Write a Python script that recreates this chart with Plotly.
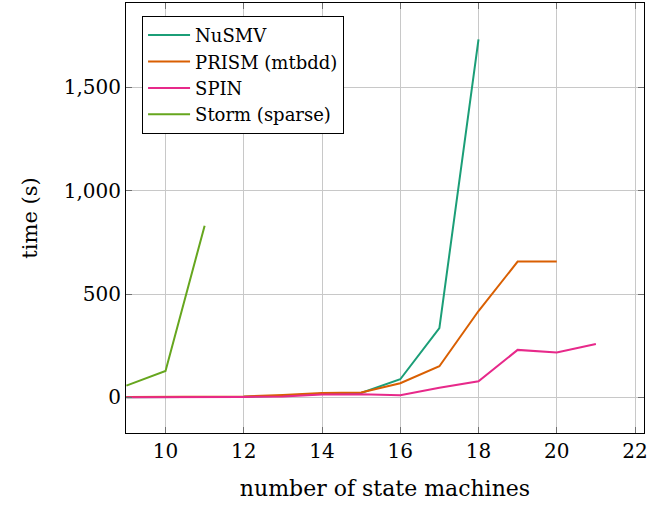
import plotly.graph_objects as go

# Data
nusmv_x = [9, 10, 11, 12, 13, 14, 15, 16, 17, 18]
nusmv_y = [1, 1, 2, 3, 8, 18, 22, 88, 335, 1732]

prism_x = [9, 10, 11, 12, 13, 14, 15, 16, 17, 18, 19, 20]
prism_y = [2, 2, 3, 5, 12, 22, 24, 69, 151, 418, 657, 657]

spin_x = [9, 10, 11, 12, 13, 14, 15, 16, 17, 18, 19, 20, 21]
spin_y = [1, 1, 1, 2, 5, 14, 16, 11, 47, 78, 230, 217, 259]

storm_x = [9, 10, 11]
storm_y = [57, 128, 831]

series = [
    ("NuSMV", nusmv_x, nusmv_y, "#1b9e77"),
    ("PRISM (mtbdd)", prism_x, prism_y, "#d95f02"),
    ("SPIN", spin_x, spin_y, "#e7298a"),
    ("Storm (sparse)", storm_x, storm_y, "#66a61e"),
]

x_ticks = [10, 12, 14, 16, 18, 20, 22]
y_ticks = [0, 500, 1000, 1500]

FONT = "DejaVu Serif"

fig = go.Figure()
for name, xs, ys, col in series:
    fig.add_trace(go.Scatter(x=xs, y=ys, mode="lines", name=name,
                             line=dict(color=col, width=2)))

fig.update_layout(
    width=651, height=506,
    margin=dict(l=126, r=7, t=3, b=73),
    paper_bgcolor="white", plot_bgcolor="white",
    font=dict(family=FONT, color="black", size=20),
    showlegend=True,
    legend=dict(x=0.031, y=0.97, xanchor="left", yanchor="top",
                bordercolor="black", borderwidth=1, bgcolor="white",
                itemwidth=42,
                font=dict(family=FONT, size=18), tracegroupgap=0),
)
fig.update_xaxes(
    range=[8.99, 22.23], tickvals=x_ticks, ticktext=[str(v) for v in x_ticks],
    showgrid=True, gridcolor="#c8c8c8", gridwidth=1,
    showline=True, linecolor="black", linewidth=1, mirror="ticks",
    ticks="inside", ticklen=6, tickcolor="#707070",
    zeroline=False,
    title=dict(text="number of state machines", font=dict(size=22), standoff=18),
    tickfont=dict(size=20),
)
fig.update_yaxes(
    range=[-172, 1908], tickvals=y_ticks, ticktext=["0", "500", "1,000", "1,500"],
    showgrid=True, gridcolor="#c8c8c8", gridwidth=1,
    showline=True, linecolor="black", linewidth=1, mirror="ticks",
    ticks="inside", ticklen=6, tickcolor="#707070",
    zeroline=False,
    title=dict(text="time (s)", font=dict(size=21), standoff=20),
    tickfont=dict(size=20),
)

fig.write_html("out.html")
